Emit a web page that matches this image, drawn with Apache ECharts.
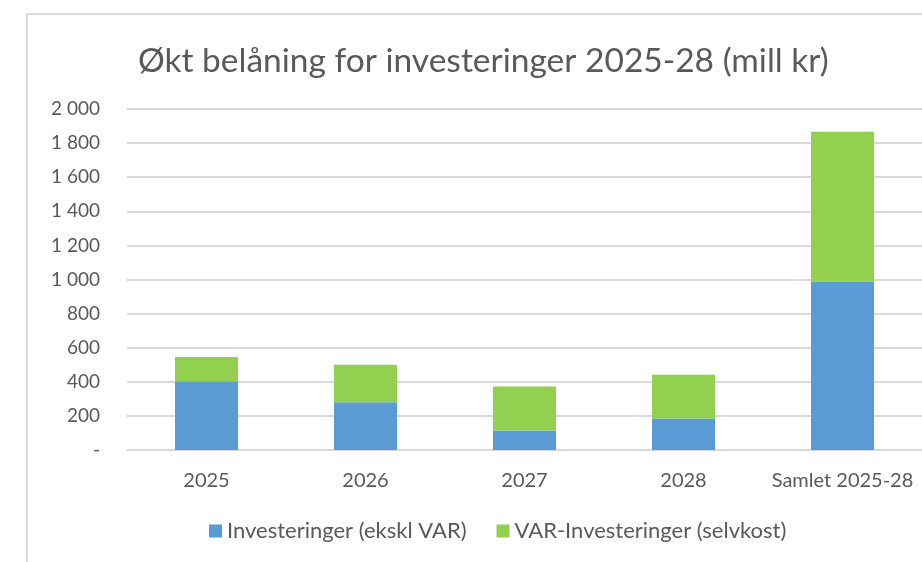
<!DOCTYPE html>
<html lang="nb">
<head>
    <meta charset="UTF-8">
    <title>Økt belåning</title>
    <script type="text/javascript" src="https://cdn.jsdelivr.net/npm/echarts@6/dist/echarts.min.js"></script>
    <style>
        html, body {
            margin: 0;
            padding: 0;
            background: #fff;
        }

        #frame {
            position: absolute;
            left: 26px;
            top: 13px;
            width: 920px;
            height: 600px;
            border: 2px solid #d9d9d9;
        }

        #container {
            position: absolute;
            left: 0;
            top: 0;
            width: 922px;
            height: 562px;
        }
    </style>
</head>
<body>
<div id="frame"></div>
<div id="container"></div>
</body>
<script>
    const categories = ['2025', '2026', '2027', '2028', 'Samlet 2025-28'];
    const investeringer = [403, 280, 115, 185, 988];
    const varInvesteringer = [142, 220, 257, 256, 878];
    const seriesNames = ['Investeringer (ekskl VAR)', 'VAR-Investeringer (selvkost)'];

    const font = 'Lato, "Open Sans", sans-serif';
    const myChart = echarts.init(document.getElementById('container'));

    function fmt(v) {
        if (v === 0) return '-';
        return String(v).replace(/\B(?=(\d{3})+(?!\d))/g, ' ');
    }

    let option = {
        animation: false,
        title: {
            text: 'Økt belåning for investeringer 2025-28 (mill kr)',
            left: 133,
            top: 39,
            textStyle: {
                fontFamily: font,
                fontSize: 33.5,
                fontWeight: 'normal',
                color: '#595959'
            }
        },
        legend: {
            bottom: 15,
            left: 204,
            itemWidth: 13,
            itemHeight: 13,
            itemGap: 30,
            icon: 'rect',
            textStyle: {fontFamily: font, fontSize: 22, color: '#595959'},
            data: seriesNames
        },
        grid: {
            left: 127,
            right: 0,
            top: 109,
            bottom: 112
        },
        xAxis: {
            type: 'category',
            data: categories,
            axisLine: {lineStyle: {color: '#d9d9d9', width: 2}},
            axisTick: {show: false},
            axisLabel: {fontFamily: font, fontSize: 20, color: '#595959', margin: 21, interval: 0}
        },
        yAxis: {
            type: 'value',
            min: 0,
            max: 2000,
            interval: 200,
            axisLine: {show: false},
            axisTick: {show: false},
            splitLine: {lineStyle: {color: '#d9d9d9', width: 2}},
            axisLabel: {fontFamily: font, fontSize: 19, color: '#595959', margin: 27, formatter: fmt}
        },
        series: [{
            name: seriesNames[0],
            type: 'bar',
            stack: 'total',
            barWidth: 63,
            itemStyle: {color: '#5b9bd5'},
            data: investeringer
        }, {
            name: seriesNames[1],
            type: 'bar',
            stack: 'total',
            barWidth: 63,
            itemStyle: {color: '#92d050'},
            data: varInvesteringer
        }]
    };
    myChart.setOption(option);

    window.onresize = myChart.resize;
</script>
</html>
